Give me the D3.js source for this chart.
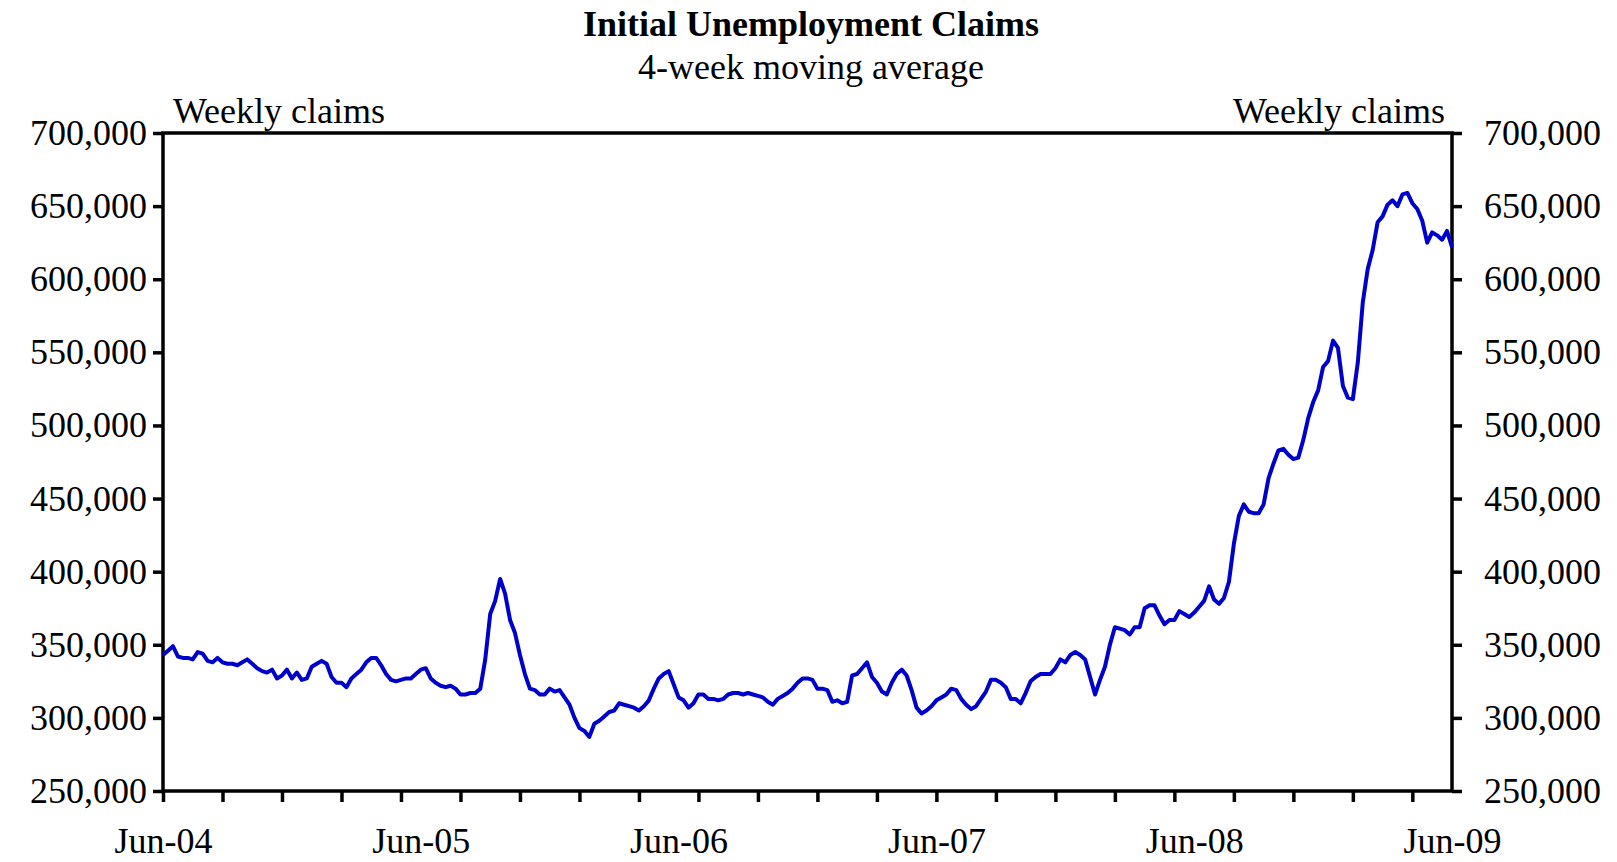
<!DOCTYPE html>
<html>
<head>
<meta charset="utf-8">
<script src="https://cdn.jsdelivr.net/npm/d3@7"></script>
<style>
  body { margin: 0; background: #fff; }
  text { font-family: "Liberation Serif", "Times New Roman", serif; }
</style>
</head>
<body>
<div id="chart"></div>
<script>
// weekly 4-week moving average of initial claims, thousands, Jun-04 .. Jun-09
const claims = [
  343, 346, 349, 342, 341, 341, 340, 345, 344, 339, 338, 341, 338, 337, 337, 336,
  338, 340, 337, 334, 332, 331, 333, 327, 329, 333, 327, 331, 326, 327, 335, 337,
  339, 337, 328, 324, 324, 321, 327, 330, 333, 338, 341, 341, 336, 330, 326, 325,
  326, 327, 327, 330, 333, 334, 327, 324, 322, 321, 322, 320, 316, 316, 317, 317,
  320, 340, 371, 380, 395, 385, 367, 358, 343, 330, 320, 319, 316, 316, 320, 318,
  319, 314, 309, 300, 293, 291, 287, 296, 298, 301, 304, 305, 310, 309, 308, 307,
  305, 308, 312, 320, 327, 330, 332, 323, 314, 312, 307, 310, 316, 316, 313, 313,
  312, 313, 316, 317, 317, 316, 317, 316, 315, 314, 311, 309, 313, 315, 317, 320,
  324, 327, 327, 326, 320, 320, 319, 311, 312, 310, 311, 329, 330, 334, 338, 328,
  324, 318, 316, 324, 330, 333, 329, 319, 307, 303, 305, 308, 312, 314, 316, 320,
  319, 313, 309, 306, 308, 313, 318, 326, 326, 324, 321, 313, 313, 310, 317, 325,
  328, 330, 330, 330, 334, 340, 338, 343, 345, 343, 340, 328, 316, 326, 335, 350,
  362, 361, 360, 357, 362, 362, 375, 377, 377, 370, 364, 367, 367, 373, 371, 369,
  372, 376, 380, 390, 381, 378, 382, 393, 419, 438, 446, 441, 440, 440, 446, 464,
  474, 483, 484, 480, 477, 478, 490, 505, 516, 524, 540, 544, 558, 553, 527, 519,
  518, 543, 584, 607, 620, 639, 643, 651, 654, 650, 658, 659, 652, 648, 640, 625,
  632, 630, 627, 633, 622
];
const yTicks = [250000, 300000, 350000, 400000, 450000, 500000, 550000, 600000, 650000, 700000];
const xLabels = ["Jun-04", "Jun-05", "Jun-06", "Jun-07", "Jun-08", "Jun-09"];
const xLabelWeeks = [0, 52, 104, 156, 208, 260];
const title = "Initial Unemployment Claims";
const subtitle = "4-week moving average";
const axisTitle = "Weekly claims";

const width = 1617, height = 862;
const margin = { top: 133, right: 165, bottom: 71, left: 163 };
const iw = width - margin.left - margin.right;
const ih = height - margin.top - margin.bottom;

const svg = d3.select("#chart").append("svg")
    .attr("width", width)
    .attr("height", height);

const g = svg.append("g")
    .attr("transform", `translate(${margin.left},${margin.top})`);

const x = d3.scaleLinear().domain([0, claims.length - 1]).range([0, iw]);
const y = d3.scaleLinear().domain([250000, 700000]).range([ih, 0]);

const fmt = d3.format(",");

const styleAxis = (sel) => {
    sel.select(".domain").remove();
    sel.selectAll("line").attr("stroke", "#000").attr("stroke-width", 3.5);
    sel.selectAll("text").attr("font-size", 36).attr("fill", "#000")
        .attr("font-family", "Liberation Serif, serif");
};

g.append("g")
    .call(d3.axisLeft(y).tickValues(yTicks).tickFormat(fmt).tickSize(10).tickPadding(6))
    .call(styleAxis);

g.append("g")
    .attr("transform", `translate(${iw},0)`)
    .call(d3.axisRight(y).tickValues(yTicks).tickFormat(fmt).tickSize(10).tickPadding(22))
    .call(styleAxis);

g.append("g")
    .attr("transform", `translate(0,${ih})`)
    .call(d3.axisBottom(x).tickValues(d3.range(0, claims.length, 12)).tickFormat("").tickSize(11))
    .call(styleAxis);

g.append("g")
    .attr("transform", `translate(0,${ih})`)
    .call(d3.axisBottom(x).tickValues(xLabelWeeks).tickFormat((d, i) => xLabels[i]).tickSize(0).tickPadding(36))
    .call(styleAxis);

// frame
g.append("rect")
    .attr("width", iw)
    .attr("height", ih)
    .attr("fill", "none")
    .attr("stroke", "#000")
    .attr("stroke-width", 3.5);

const line = d3.line()
    .x((d, i) => x(i))
    .y(d => y(d * 1000));

g.append("path")
    .datum(claims)
    .attr("fill", "none")
    .attr("stroke", "#0000CC")
    .attr("stroke-width", 4)
    .attr("stroke-linejoin", "round")
    .attr("d", line);

svg.append("text")
    .attr("x", 811).attr("y", 36)
    .attr("text-anchor", "middle")
    .attr("font-size", 36).attr("font-weight", "bold")
    .text(title);

svg.append("text")
    .attr("x", 811).attr("y", 79)
    .attr("text-anchor", "middle")
    .attr("font-size", 36)
    .text(subtitle);

svg.append("text")
    .attr("x", margin.left + 10).attr("y", 123)
    .attr("font-size", 36)
    .text(axisTitle);

svg.append("text")
    .attr("x", margin.left + iw - 7).attr("y", 123)
    .attr("text-anchor", "end")
    .attr("font-size", 36)
    .text(axisTitle);
</script>
</body>
</html>
